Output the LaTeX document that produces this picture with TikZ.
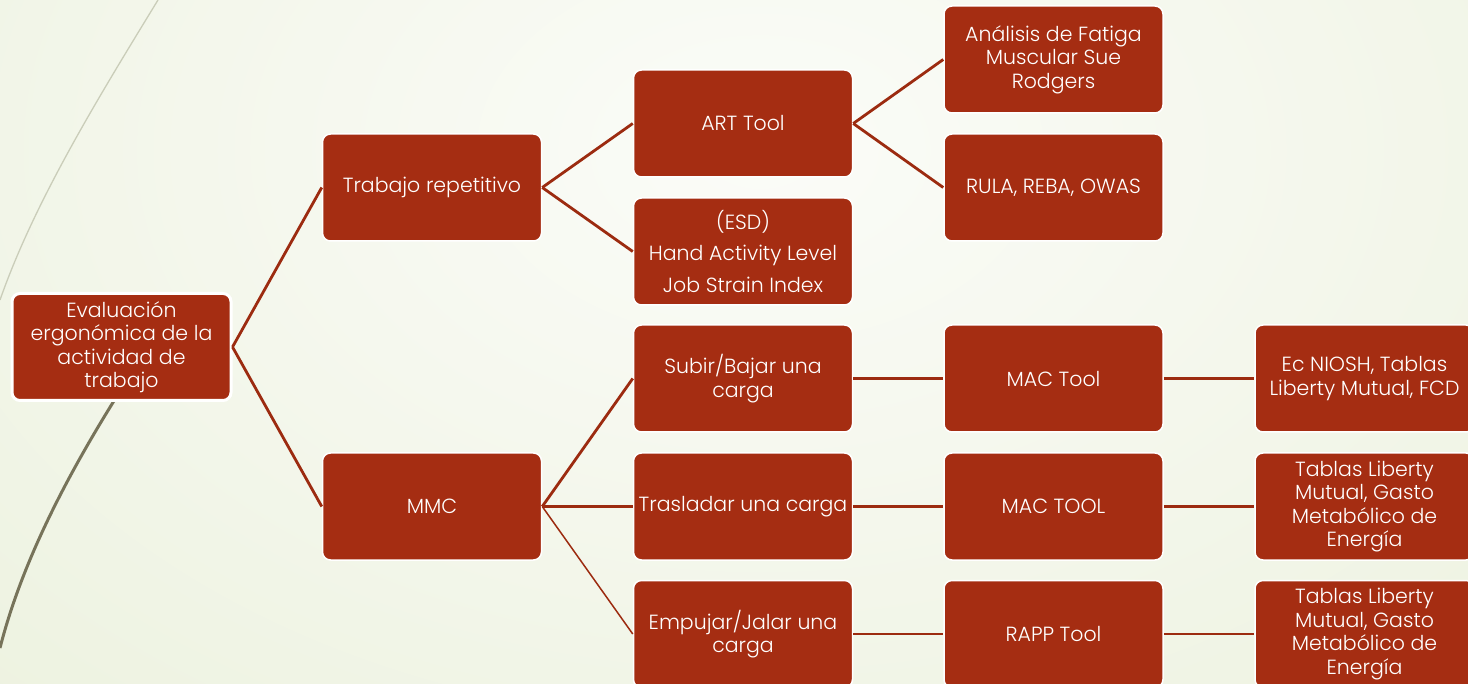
\documentclass[tikz,border=0pt]{standalone}
\usepackage{fontspec}
\setmainfont{Poppins}[UprightFont=* Light]
\definecolor{boxred}{HTML}{A52D12}
\definecolor{linered}{HTML}{9C2B10}
\definecolor{bgout}{HTML}{E6EDD4}
\definecolor{bgin}{HTML}{FBFCF8}
\definecolor{thinline}{HTML}{CACDB9}
\definecolor{thickline}{HTML}{77735A}
\begin{document}
\begin{tikzpicture}[x=1pt,y=-1pt,
  box/.style={draw=white, line width=1.5pt, fill=boxred, rounded corners=8pt,
    minimum width=219pt, minimum height=107pt, inner sep=2pt, align=center,
    text=white, font=\fontsize{20.5}{23.5}\selectfont},
  conn/.style={draw=linered, line width=2.8pt},
  connthin/.style={draw=linered, line width=1.5pt}]
\useasboundingbox (0,0) rectangle (1468,684);
% background
\begin{scope}
\clip (0,0) rectangle (1468,684);
\fill[bgout] (0,0) rectangle (1468,684);
\shade[inner color=bgin, outer color=bgout] (760,150) ellipse (1700pt and 1150pt);
\end{scope}
% decorative curves
\draw[thinline, line width=1.3pt] (158,0) .. controls (100,95) and (35,200) .. (0,300);
\draw[thickline, line width=3pt] (150,345) .. controls (80,450) and (25,550) .. (0,648);
% nodes
\node[box, line width=3pt] (root) at (121.5,347) {Evaluación\\ergonómica de la\\actividad de\\trabajo};
\node[box] (trab) at (432,187.5) {Trabajo repetitivo};
\node[box] (mmc) at (432,506.5) {MMC};
\node[box] (art) at (743,123.5) {ART Tool};
\node[box] (esd) at (743,251.5) {(ESD)\\[8pt]Hand Activity Level\\[8pt]Job Strain Index};
\node[box] (subir) at (743,378.5) {Subir/Bajar una\\carga};
\node[box] (tras) at (743,506.5) {Trasladar una carga};
\node[box] (emp) at (743,634) {Empujar/Jalar una\\carga};
\node[box] (anal) at (1053.5,59.5) {Análisis de Fatiga\\Muscular Sue\\Rodgers};
\node[box] (rula) at (1053.5,187.5) {RULA, REBA, OWAS};
\node[box] (mac1) at (1053.5,378.5) {MAC Tool};
\node[box] (mac2) at (1053.5,506.5) {MAC TOOL};
\node[box] (rapp) at (1053.5,634) {RAPP Tool};
\node[box] (ec) at (1364.5,378.5) {Ec NIOSH, Tablas\\Liberty Mutual, FCD};
\node[box] (tab1) at (1364.5,506.5) {Tablas Liberty\\Mutual, Gasto\\Metabólico de\\Energía};
\node[box] (tab2) at (1364.5,634) {Tablas Liberty\\Mutual, Gasto\\Metabólico de\\Energía};
% connectors
\draw[conn] (root.east) -- (trab.west);
\draw[conn] (root.east) -- (mmc.west);
\draw[conn] (trab.east) -- (art.west);
\draw[conn] (trab.east) -- (esd.west);
\draw[conn] (art.east) -- (anal.west);
\draw[conn] (art.east) -- (rula.west);
\draw[conn] (mmc.east) -- (subir.west);
\draw[conn] (mmc.east) -- (tras.west);
\draw[connthin] (mmc.east) -- (emp.west);
\draw[conn] (subir.east) -- (mac1.west);
\draw[conn] (tras.east) -- (mac2.west);
\draw[conn] (emp.east) -- (rapp.west);
\draw[conn] (mac1.east) -- (ec.west);
\draw[conn] (mac2.east) -- (tab1.west);
\draw[conn] (rapp.east) -- (tab2.west);
\end{tikzpicture}
\end{document}
